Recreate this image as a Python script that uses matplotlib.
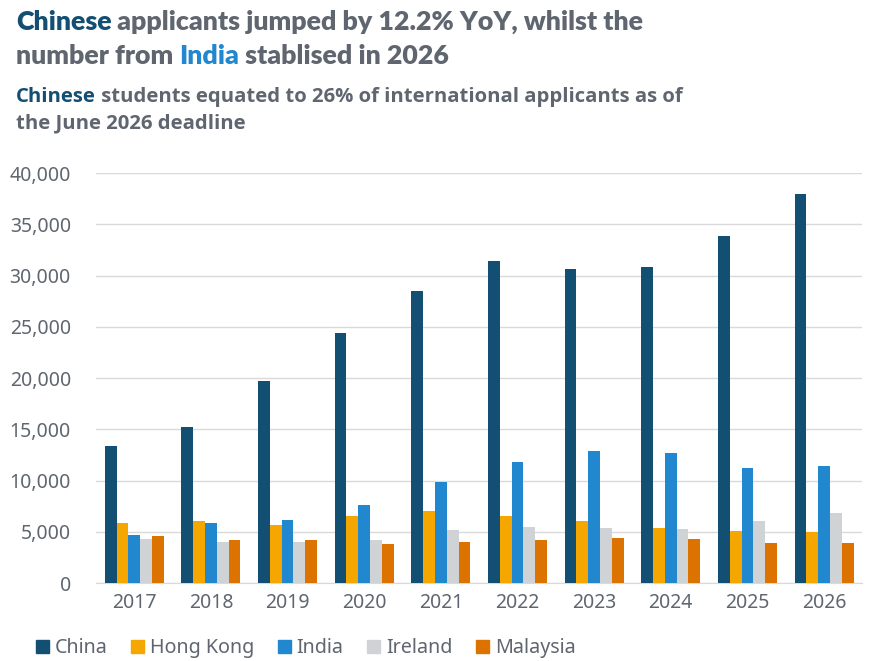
import matplotlib.pyplot as plt
import numpy as np
from matplotlib.patches import Patch
from matplotlib.ticker import FuncFormatter

years = ['2017', '2018', '2019', '2020', '2021', '2022', '2023', '2024', '2025', '2026']
china = [13400, 15200, 19700, 24400, 28500, 31400, 30650, 30850, 33850, 37950]
hong_kong = [5850, 6050, 5650, 6550, 7050, 6550, 6050, 5400, 5100, 5000]
india = [4700, 5850, 6150, 7600, 9850, 11800, 12900, 12700, 11250, 11450]
ireland = [4300, 4000, 4000, 4200, 5200, 5450, 5400, 5300, 6050, 6850]
malaysia = [4600, 4200, 4200, 3850, 4000, 4200, 4400, 4300, 3900, 3900]

series = ['China', 'Hong Kong', 'India', 'Ireland', 'Malaysia']
colors = ['#134f73', '#f5a700', '#2187cf', '#d0d3d6', '#dc7300']
TEXT = '#5f6670'
DARK = '#134f73'
BLUE = '#2187cf'

plt.rcParams['font.family'] = ['Noto Sans', 'DejaVu Sans']

fig = plt.figure(figsize=(8.8, 6.61), dpi=100)
ax = fig.add_axes([0.109, 0.118, 0.871, 0.62])

x = np.arange(len(years))
w = 0.154
for i, (vals, c) in enumerate(zip([china, hong_kong, india, ireland, malaysia], colors)):
    ax.bar(x + (i - 2) * w, vals, width=w, color=c, zorder=3)

ax.set_ylim(0, 40000)
ax.set_xlim(-0.5, len(years) - 0.5)
ax.set_yticks(range(0, 40001, 5000))
ax.yaxis.set_major_formatter(FuncFormatter(lambda v, p: f'{int(v):,}'))
ax.set_xticks(x)
ax.set_xticklabels(years)
ax.grid(axis='y', color='#d9d9d9', linewidth=1, zorder=0)
for s in ['top', 'right', 'left']:
    ax.spines[s].set_visible(False)
ax.spines['bottom'].set_color('#d9d9d9')
ax.tick_params(axis='both', length=0, labelsize=14, colors=TEXT, pad=7)
ax.tick_params(axis='y', pad=18)

# legend along the bottom
handles = [Patch(color=c, label=s) for s, c in zip(series, colors)]
leg = fig.legend(handles=handles, loc='lower left', bbox_to_anchor=(0.025, -0.017), ncol=5,
                 frameon=False, fontsize=14.2, handlelength=0.65, handleheight=0.65,
                 handletextpad=0.3, columnspacing=1.2, labelcolor=TEXT,
                 borderaxespad=0.3)


def chain(parts, x0, y0, size, weight, family):
    # draw coloured pieces of one line, each after the previous one
    prev = fig.text(x0, y0, parts[0][0], color=parts[0][1], fontsize=size,
                    fontweight=weight, family=family, va='baseline', ha='left')
    for txt, col in parts[1:]:
        prev = ax.annotate(txt, xy=(1, 0), xycoords=prev, xytext=(0, 0),
                           textcoords='offset points', color=col, fontsize=size,
                           fontweight=weight, family=family, va='bottom', ha='left',
                           annotation_clip=False)


title_font = ['Lato', 'DejaVu Sans']
sub_font = ['Open Sans', 'DejaVu Sans']
chain([('Chinese', DARK), (' applicants jumped by 12.2% YoY, whilst the', TEXT)],
      0.018, 0.954, 19.3, 'heavy', title_font)
chain([('number from ', TEXT), ('India', BLUE), (' stablised in 2026', TEXT)],
      0.018, 0.903, 19.3, 'heavy', title_font)
chain([('Chinese', DARK), (' students equated to 26% of international applicants as of', TEXT)],
      0.018, 0.846, 14.6, 'bold', sub_font)
fig.text(0.018, 0.805, 'the June 2026 deadline', color=TEXT, fontsize=14.6,
         fontweight='bold', family=sub_font, va='baseline')

fig.savefig('out.png', dpi=100)
